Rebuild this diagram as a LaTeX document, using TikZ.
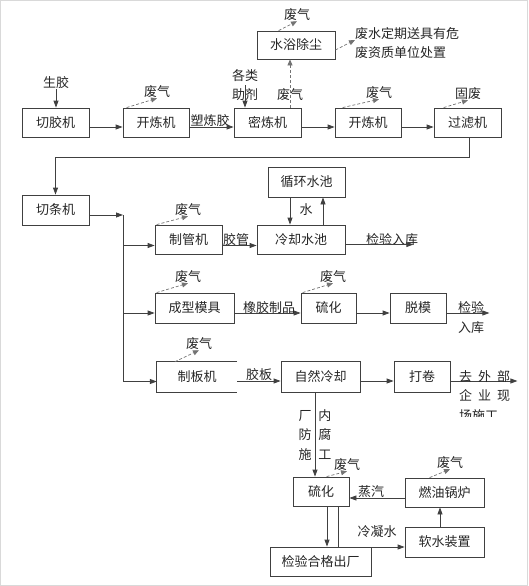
\documentclass[tikz,border=0pt]{standalone}
\usepackage{fontspec}
\setmainfont{Noto Sans CJK SC}
\usetikzlibrary{arrows.meta}
\tikzset{
  box/.style={draw=black!75, line width=0.8pt, minimum height=29pt, inner sep=0pt, text=black!85},
  lbl/.style={inner sep=0pt, text=black!85},
  flow/.style={draw=black!75, line width=0.8pt, -{Triangle[length=7pt,width=5pt]}},
  gas/.style={draw=black!55, line width=0.7pt, dash pattern=on 3pt off 2pt, -{Triangle[length=6pt,width=5pt]}},
}
\begin{document}
\begin{tikzpicture}[x=1pt,y=-1pt,font=\fontsize{13}{19.5}\selectfont]
  \useasboundingbox (0,0) rectangle (528,586);
  \draw[black!15] (0.5,0.5) rectangle (527.5,585.5);

  % mixing line
  \node[box,minimum width=67pt] (qjj) at (55.5,122.5) {切胶机};
  \node[box,minimum width=66pt] (klj1) at (156,122.5) {开炼机};
  \node[box,minimum width=67pt] (mlj) at (267.5,122.5) {密炼机};
  \node[box,minimum width=66pt] (klj2) at (368,122.5) {开炼机};
  \node[box,minimum width=67pt] (glj) at (467.5,122.5) {过滤机};
  \node[box,minimum width=78pt,minimum height=28pt] (ycc) at (296,45) {水浴除尘};

  \node[lbl] (sj) at (56,83) {生胶};
  \draw[flow] (sj.south) -- (sj.south |- qjj.north);
  \node[lbl,align=center] (zj) at (245,85) {各类\\助剂};
  \draw[flow] (zj.center) -- (zj.center |- mlj.north);
  \node[lbl] (slj) at (210,121) {塑炼胶};

  \draw[flow] ([yshift=-4.5pt]qjj.east) -- ([yshift=-4.5pt]klj1.west);
  \draw[flow] ([yshift=-4.5pt]klj1.east) -- ([yshift=-4.5pt]mlj.west);
  \draw[flow] ([yshift=-4.5pt]mlj.east) -- ([yshift=-4.5pt]klj2.west);
  \draw[flow] ([yshift=-4.5pt]klj2.east) -- ([yshift=-4.5pt]glj.west);

  \node[lbl] (fq1) at (157,92) {废气};
  \draw[gas] ([xshift=4pt]klj1.north west) -- (fq1.south);
  \node[lbl] (fq2) at (290,95) {废气};
  \draw[gas] ([xshift=22.5pt]mlj.north) coordinate (m1) -- (m1 |- ycc.south);
  \node[lbl] (fq3) at (379,93) {废气};
  \draw[gas] ([xshift=8pt]klj2.north west) -- (fq3.south);
  \node[lbl] (gf) at (468,94) {固废};
  \draw[gas] ([xshift=10pt]glj.north west) -- (gf.south);
  \node[lbl] (fq0) at (297,15) {废气};
  \draw[gas] ([xshift=22pt]ycc.north west) -- (fq0.south);
  \node[lbl,anchor=west,align=left] (fs) at (355,43) {废水定期送具有危\\废资质单位处置};
  \draw[gas] ([yshift=-5pt]ycc.east) -- ([yshift=3pt]fs.west);

  % to the cutter
  \node[box,minimum width=67pt,minimum height=30pt] (qtj) at (55.5,210) {切条机};
  \draw[flow] ([xshift=1.5pt]glj.south) -- ++(0,20) -| (qtj.north);

  \coordinate (br) at (123,215);
  \draw[flow] ([yshift=-5pt]qtj.east) -- (br);

  % tubes
  \node[box,minimum width=67pt] (zgj) at (188.5,239.5) {制管机};
  \node[box,minimum width=88pt] (lqsc) at (301,239.5) {冷却水池};
  \node[box,minimum width=77pt,minimum height=30pt] (xhsc) at (306.5,182) {循环水池};
  \coordinate (zgjin) at ([yshift=-6pt]zgj.west);
  \draw[flow] (br) |- (zgjin);
  \draw[flow] ([yshift=-6pt]zgj.east) -- ([yshift=-6pt]lqsc.west);
  \node[lbl] (jg) at (236,240) {胶管};
  \draw[flow] ([xshift=-16.5pt]xhsc.south) coordinate (w1) -- (w1 |- lqsc.north);
  \draw[flow] ([xshift=22pt]lqsc.north) coordinate (w2) -- (w2 |- xhsc.south);
  \node[lbl] (shui) at (306,210) {水};
  \node[lbl] (jyrk1) at (392,240) {检验入库};
  \draw[flow] ([yshift=-5pt]lqsc.east) -- ++(68,0);
  \node[lbl] (fq4) at (188,210) {废气};
  \draw[gas] ([xshift=2pt]zgj.north west) -- (fq4.south);

  % moulded parts
  \node[box,minimum width=79pt,minimum height=30pt] (cxmj) at (194.5,308) {成型模具};
  \node[box,minimum width=55pt,minimum height=30pt] (lh1) at (328.5,308) {硫化};
  \node[box,minimum width=56pt,minimum height=30pt] (tm) at (418,308) {脱模};
  \coordinate (cxin) at ([yshift=-5pt]cxmj.west);
  \draw[flow] (br) |- (cxin);
  \draw[flow] ([yshift=-5pt]cxmj.east) -- ([yshift=-5pt]lh1.west);
  \draw[flow] ([yshift=-5pt]lh1.east) -- ([yshift=-5pt]tm.west);
  \draw[flow] ([yshift=-5pt]tm.east) -- ++(43,0);
  \node[lbl] (xjzp) at (269,308) {橡胶制品};
  \node[lbl,align=center] (jyrk2) at (471,317.5) {检验\\入库};
  \node[lbl] (fq5) at (188,277) {废气};
  \draw[gas] ([xshift=2pt]cxmj.north west) -- (fq5.south);
  \node[lbl] (fq6) at (333,277) {废气};
  \draw[gas] ([xshift=2pt]lh1.north west) -- (fq6.south);

  % sheets
  \node[lbl,minimum width=80pt,minimum height=30pt] (zbj) at (197,377) {制板机};
  \draw[black!75,line width=0.8pt] (zbj.north east) -- (zbj.north west) -- (zbj.south west) -- (zbj.south east);
  \node[box,minimum width=79pt,minimum height=31pt] (zrlq) at (320.5,376.5) {自然冷却};
  \node[box,minimum width=56pt,minimum height=31pt] (dj) at (422,376.5) {打卷};
  \coordinate (zbin) at ([yshift=-4.5pt]zbj.west);
  \draw[flow] (br) |- (zbin);
  \draw[flow] ([yshift=-4pt]zbj.east) -- ([yshift=-4.5pt]zrlq.west);
  \draw[flow] ([yshift=-4.5pt]zrlq.east) -- ([yshift=-4.5pt]dj.west);
  \draw[flow] ([yshift=-4.5pt]dj.east) -- ++(67,0);
  \node[lbl] (jb) at (259,375) {胶板};
  \node[lbl] (fq7) at (199,344) {废气};
  \draw[gas] ([xshift=18pt]zbj.north west) -- (fq7.south);
  \begin{scope}
    \clip (452,360) rectangle (528,416);
    \node[lbl,align=left,anchor=north west] (qwb) at (459,370) {去\hspace{6pt}外\hspace{6pt}部\\企\hspace{6pt}业\hspace{6pt}现\\场施工};
  \end{scope}

  % vulcanising of sheets
  \node[box,minimum width=56pt] (lh2) at (321,491.5) {硫化};
  \node[box,minimum width=79pt] (rylu) at (444.5,492.5) {燃油锅炉};
  \node[box,minimum width=79pt,minimum height=30pt] (rszz) at (444.5,542) {软水装置};
  \node[box,minimum width=101pt] (jyhg) at (320.5,561.5) {检验合格出厂};
  \draw[flow] ([xshift=-5.5pt]zrlq.south) coordinate (z1) -- (z1 |- lh2.north);
  \node[lbl,align=center] (fffs) at (315,435) {厂\hspace{7pt}内\\防\hspace{7pt}腐\\施\hspace{7pt}工};
  \draw[flow] ([yshift=-5.5pt]rylu.west) coordinate (s1) -- (s1 -| lh2.east);
  \node[lbl] (zq) at (371,492) {蒸汽};
  \draw[flow] ([xshift=-4.5pt]rszz.north) coordinate (s2) -- (s2 |- rylu.south);
  \draw[flow] ([xshift=6pt]lh2.south) coordinate (s3) -- (s3 |- jyhg.north);
  \draw[flow] ([xshift=17pt]lh2.south) |- ([yshift=-5pt]rszz.west);
  \node[lbl] (lns) at (377,532) {冷凝水};
  \node[lbl] (fq8) at (347,465) {废气};
  \draw[gas] ([xshift=34pt]lh2.north west) -- (fq8.south);
  \node[lbl] (fq9) at (450,463) {废气};
  \draw[gas] ([xshift=25pt]rylu.north west) -- (fq9.south);
\end{tikzpicture}
\end{document}
